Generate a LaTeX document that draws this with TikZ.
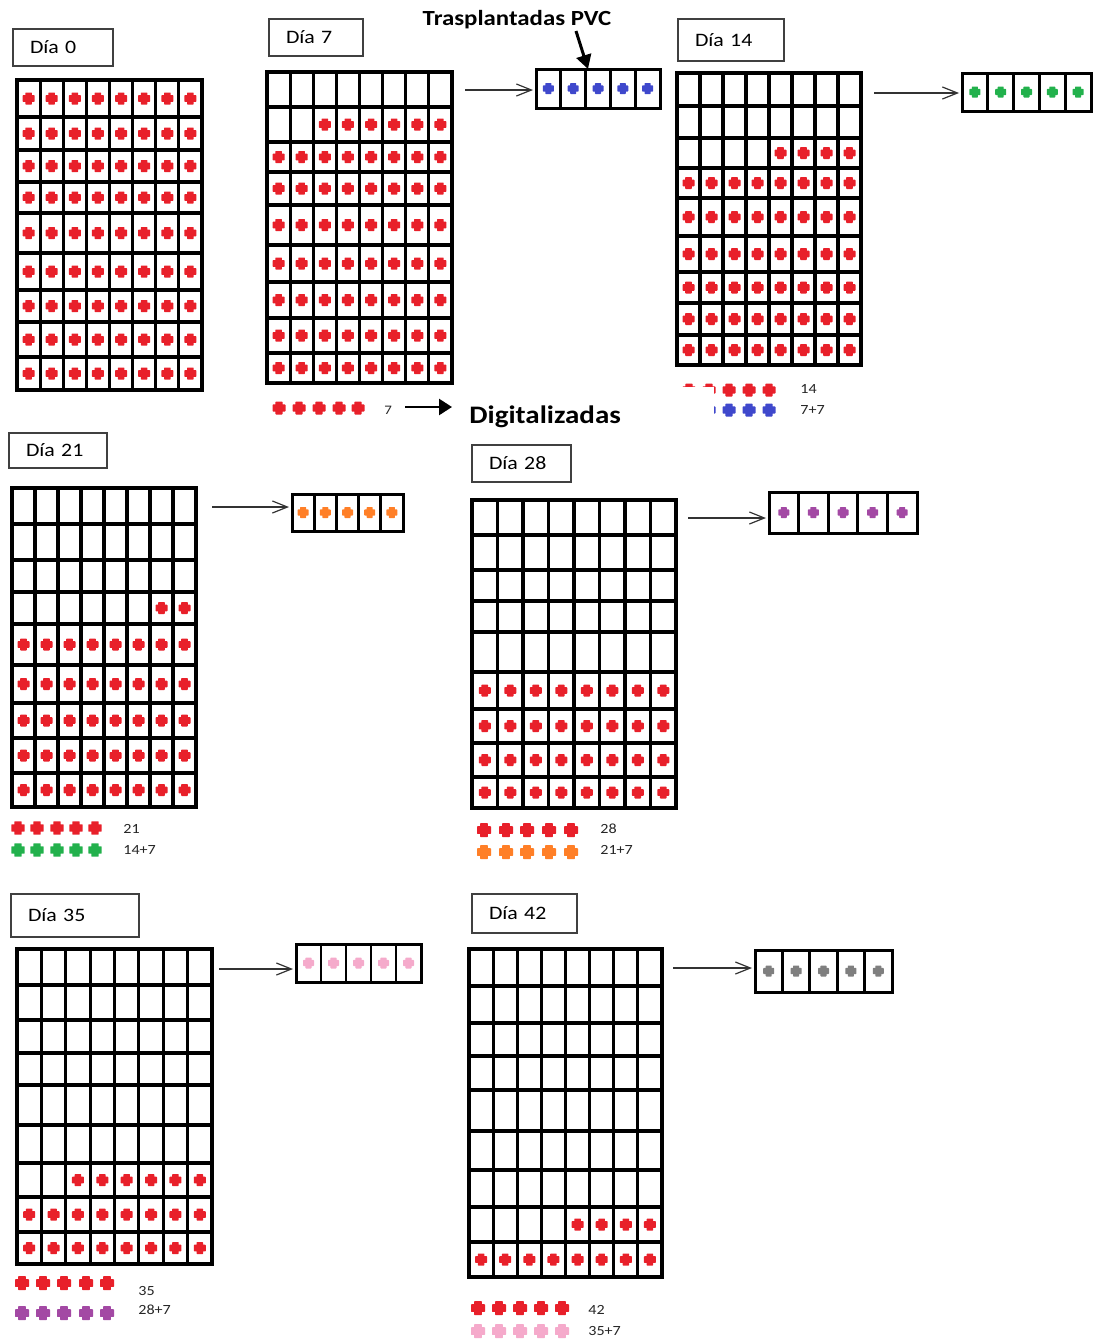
\documentclass[tikz,border=0pt]{standalone}
\usepackage{fontspec}
\setmainfont{Carlito}[FakeStretch=1.15]
\usetikzlibrary{arrows.meta,calc}
\definecolor{cred}{HTML}{E8202A}
\definecolor{cblue}{HTML}{3F48CC}
\definecolor{cgreen}{HTML}{22B14C}
\definecolor{corange}{HTML}{FF7F27}
\definecolor{cpurple}{HTML}{A349A4}
\definecolor{cpink}{HTML}{F5AACB}
\definecolor{cgray}{HTML}{7F7F7F}
\tikzset{
  gridline/.style={line width=1.6pt, draw=black},
  sbox/.style={draw=black, line width=1.5pt, inner sep=0pt, outer sep=0pt, fill=white},
  sline/.style={line width=1.4pt, draw=black},
  lblbox/.style={draw=black!75, line width=0.8pt, inner xsep=8.5pt, inner ysep=0pt, outer sep=0pt,
     anchor=north west, align=left, font=\fontsize{9.5}{11}\selectfont},
  numtxt/.style={anchor=west, inner sep=0pt, font=\fontsize{7}{8}\selectfont, text=black!85},
  thinarr/.style={draw=black!80, line width=0.6pt, -{Straight Barb[length=7.5pt,width=6pt]}, shorten >=1.5pt},
  thickarr/.style={draw=black, line width=1.3pt, -{Triangle[length=6.5pt,width=8pt]}},
}
\newcommand\crossat[4]{%
  \fill[#3, rounded corners=0.3pt] ({#1-#4},{#2-0.55*#4}) rectangle ({#1+#4},{#2+0.55*#4})
     ({#1-0.55*#4},{#2-#4}) rectangle ({#1+0.55*#4},{#2+#4});}
\newcommand\mygrid[5]{%
  \draw[gridline] (#1,#3) rectangle (#2,#4);
  \foreach \yy in {#5} {\draw[gridline] (#1,\yy) -- (#2,\yy);}
  \foreach \i in {1,...,7} {\draw[gridline] ({#1+(#2-#1)*\i/8},#3) -- ({#1+(#2-#1)*\i/8},#4);}}
\newcommand\dotrow[7]{%
  \foreach \c in {#5,...,#6} {\crossat{#1+(#2-#1)*(\c-0.5)/8}{(#3+#4)/2}{#7}{6}}}
\newcommand\fullrows[3]{%
  \foreach \ya/\yb in {#3} {\dotrow{#1}{#2}{\ya}{\yb}{1}{8}{cred}}}
\newcommand\smallbox[6]{%
  \pgfmathsetmacro\sbw{(#4-#2)/2}\pgfmathsetmacro\sbh{(#5-#3)/2}%
  \node[sbox, minimum width=\sbw pt, minimum height=\sbh pt, anchor=north west] (#1) at (#2,#3) {};
  \foreach \i in {1,...,4} {\draw[sline] ({#2+(#4-#2)*\i/5},#3) -- ({#2+(#4-#2)*\i/5},#5);}
  \foreach \i in {1,...,5} {\crossat{#2+(#4-#2)*(\i-0.5)/5}{(#3+#5)/2}{#6}{5.5}}}
\newcommand\legdots[4]{\foreach \xx in {#1} {\crossat{\xx}{#2}{#3}{#4}}}
\newcommand\lbl[6]{% name x0 y0 x1 y1 text
  \pgfmathsetmacro\lw{(#4-#2)/2-17}\pgfmathsetmacro\lh{(#5-#3)/2}%
  \node[lblbox, text width=\lw pt, minimum height=\lh pt] (#1) at (#2,#3) {#6};}

\begin{document}
\begin{tikzpicture}[x=0.5pt, y=-0.5pt]
\fill[white] (0,0) rectangle (1094,1339);
\useasboundingbox (0,0) rectangle (1094,1339);

% ---------- Día 0 ----------
\lbl{l0}{13}{29}{113}{66}{Día 0}
\mygrid{17}{202}{80}{390}{117,150,182,213,253,290,322,357}
\fullrows{17}{202}{80/117,117/150,150/182,182/213,213/253,253/290,290/322,322/357,357/390}

% ---------- Día 7 ----------
\lbl{l7}{269}{19}{363}{56}{Día 7}
\mygrid{267}{452}{72}{383}{107,142,172,205,245,282,318,353}
\dotrow{267}{452}{107}{142}{3}{8}{cred}
\fullrows{267}{452}{142/172,172/205,205/245,245/282,282/318,318/353,353/383}
\smallbox{b7}{536}{69}{660}{108}{cblue}
\coordinate (a7) at (465,90);
\draw[thinarr] (a7) -- (a7 -| b7.west);
\node[inner sep=0pt, font=\bfseries\fontsize{10.8}{12}\selectfont] (tpvc) at (517,20) {Trasplantadas PVC};
\coordinate (pvcs) at (576,31);
\draw[thickarr, line width=1.5pt, -{Triangle[length=7pt,width=7.5pt]}] (pvcs) -- ($(b7.north west)+(52,0)$);
\legdots{279,299,319,339,358}{408}{cred}{6.5}
\node[numtxt, font=\fontsize{6.5}{7}\selectfont] (n7) at (384,410) {7};
\begin{scope}
  \clip (455,395) rectangle (640,427.5);
  \node[anchor=base west, inner sep=0pt, font=\bfseries\fontsize{12.6}{14}\selectfont] (dig) at (469,423) {Digitalizadas};
\end{scope}
\coordinate (ds) at (405,407);
\draw[thickarr, shorten >=8.5pt] (ds) -- (ds -| dig.west);

% ---------- Día 14 ----------
\lbl{l14}{678}{19}{784}{61}{Día 14}
\mygrid{677}{861}{73}{365}{106,138,168,198,236,272,303,335}
\dotrow{677}{861}{138}{168}{5}{8}{cred}
\fullrows{677}{861}{168/198,198/236,236/272,272/303,303/335,335/365}
\smallbox{b14}{962}{73}{1091}{111}{cgreen}
\coordinate (a14) at (874,93);
\draw[thinarr] (a14) -- (a14 -| b14.west);
\legdots{689,709,729,749,769}{390}{cred}{6.5}
\legdots{689,709,729,749,769}{410}{cblue}{6.5}
\fill[white] (676,386.5) rectangle (713.5,421);
\node[numtxt] (n14a) at (800,389) {14};
\node[numtxt] (n14b) at (800,410) {7+7};

% ---------- Día 21 ----------
\lbl{l21}{9}{433}{107}{468}{Día 21}
\mygrid{12}{196}{488}{807}{524,560,592,624,665,703,738,773}
\dotrow{12}{196}{592}{624}{7}{8}{cred}
\fullrows{12}{196}{624/665,665/703,703/738,738/773,773/807}
\smallbox{b21}{292}{494}{403}{531}{corange}
\coordinate (a21) at (212,507);
\draw[thinarr] (a21) -- (a21 -| b21.west);
\legdots{18,37,57,76,95}{828}{cred}{6.7}
\legdots{18,37,57,76,95}{850}{cgreen}{6.7}
\node[numtxt] (n21a) at (123,829) {21};
\node[numtxt] (n21b) at (123,850) {14+7};

% ---------- Día 28 ----------
\lbl{l28}{472}{445}{571}{482}{Día 28}
\mygrid{472}{676}{500}{808}{535,570,601,632,672,709,743,777}
\fullrows{472}{676}{672/709,709/743,743/777,777/808}
\smallbox{b28}{769}{492}{917}{533}{cpurple}
\coordinate (a28) at (688,518);
\draw[thinarr] (a28) -- (a28 -| b28.west);
\legdots{484,506,527,549,571}{830}{cred}{7}
\legdots{484,506,527,549,571}{852}{corange}{7}
\node[numtxt] (n28a) at (600,829) {28};
\node[numtxt] (n28b) at (600,850) {21+7};

% ---------- Día 35 ----------
\lbl{l35}{11}{894}{139}{937}{Día 35}
\mygrid{17}{212}{949}{1264}{985,1020,1053,1085,1125,1163,1197,1232}
\dotrow{17}{212}{1163}{1197}{3}{8}{cred}
\fullrows{17}{212}{1197/1232,1232/1264}
\smallbox{b35}{296}{944}{421}{982}{cpink}
\coordinate (a35) at (219,969);
\draw[thinarr] (a35) -- (a35 -| b35.west);
\legdots{22,43,64,86,107}{1283}{cred}{7}
\legdots{22,43,64,86,107}{1313}{cpurple}{7}
\node[numtxt] (n35a) at (138,1291) {35};
\node[numtxt] (n35b) at (138,1310) {28+7};

% ---------- Día 42 ----------
\lbl{l42}{472}{894}{577}{933}{Día 42}
\mygrid{469}{662}{949}{1277}{986,1023,1056,1090,1131,1170,1207,1242}
\dotrow{469}{662}{1207}{1242}{5}{8}{cred}
\fullrows{469}{662}{1242/1277}
\smallbox{b42}{755}{950}{892}{992}{cgray}
\coordinate (a42) at (673,968);
\draw[thinarr] (a42) -- (a42 -| b42.west);
\legdots{478,499,520,541,562}{1308}{cred}{7}
\legdots{478,499,520,541,562}{1331}{cpink}{7}
\node[numtxt] (n42a) at (588,1310) {42};
\node[numtxt] (n42b) at (588,1331) {35+7};
\end{tikzpicture}
\end{document}
